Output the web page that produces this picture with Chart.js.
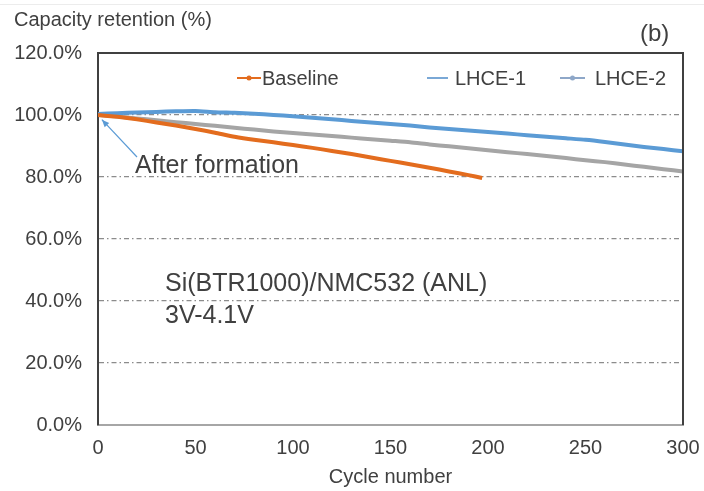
<!DOCTYPE html>
<html lang="en">
<head>
    <meta charset="UTF-8">
    <title>Capacity retention</title>
    <style>
        body {
            margin: 0;
            background: #ffffff;
        }
        #wrap {
            width: 704px;
            height: 491px;
        }
    </style>
</head>
<body>
    <div id="wrap">
        <canvas id="capChart" width="704" height="491"></canvas>
    </div>
    <script src="https://cdn.jsdelivr.net/npm/chart.js@4.4.1/dist/chart.umd.min.js"></script>
    <script>
        // values
        const cycles = [0, 10, 20, 30, 40, 50, 60, 70, 80, 90, 100, 110, 120, 130, 140, 150,
                        160, 170, 180, 190, 200, 210, 220, 230, 240, 250, 260, 270, 280, 290, 300];
        const lhce1 = [100.3, 100.6, 100.8, 101.0, 101.2, 101.3, 100.9, 100.7, 100.4, 100.0, 99.6,
                       99.1, 98.6, 98.1, 97.6, 97.1, 96.6, 96.0, 95.5, 95.0, 94.5, 94.0, 93.5,
                       93.0, 92.5, 92.0, 91.3, 90.5, 89.7, 89.0, 88.3];
        const lhce2 = [100.0, 99.5, 98.9, 98.3, 97.7, 97.1, 96.5, 95.9, 95.3, 94.7, 94.2, 93.7,
                       93.2, 92.7, 92.2, 91.7, 91.2, 90.5, 89.9, 89.3, 88.6, 88.0, 87.4, 86.8,
                       86.1, 85.4, 84.8, 84.0, 83.3, 82.5, 81.8];
        const baseCycles = [0, 10, 20, 30, 40, 50, 60, 70, 80, 90, 100, 110, 120, 130, 140, 150,
                            160, 170, 180, 190, 197];
        const baseline = [100.0, 99.4, 98.6, 97.6, 96.6, 95.5, 94.3, 93.0, 92.0, 91.2, 90.3,
                          89.4, 88.4, 87.4, 86.3, 85.2, 84.1, 83.0, 81.8, 80.6, 79.7];
        const yTicks = [0, 20, 40, 60, 80, 100, 120];
        const xTicks = [0, 50, 100, 150, 200, 250, 300];

        const FONT = "'Liberation Sans', Arial, sans-serif";
        const TXT = '#404040';

        function pts(xs, ys) {
            return xs.map((x, i) => ({ x: x, y: ys[i] }));
        }

        const extras = {
            id: 'extras',
            afterDraw(chart) {
                const c = chart.ctx;
                const a = chart.chartArea;
                const xs = chart.scales.x;
                const ys = chart.scales.y;
                c.save();
                // faint line at the very top
                c.strokeStyle = '#ececec';
                c.lineWidth = 1;
                c.beginPath();
                c.moveTo(0, 4.5);
                c.lineTo(704, 4.5);
                c.stroke();

                // top and right frame
                c.strokeStyle = '#404040';
                c.lineWidth = 2;
                c.beginPath();
                c.moveTo(a.left, a.top);
                c.lineTo(a.right, a.top);
                c.lineTo(a.right, a.bottom);
                c.stroke();

                c.fillStyle = TXT;
                c.textBaseline = 'middle';
                c.textAlign = 'left';
                c.font = '20px ' + FONT;
                c.fillText('Capacity retention (%)', 14, 20);
                c.font = '24px ' + FONT;
                c.fillText('(b)', 640, 34);

                c.font = '25px ' + FONT;
                c.fillText('After formation', 135, 166);
                c.font = '25px ' + FONT;
                c.fillText('Si(BTR1000)/NMC532 (ANL)', 165, 284);
                c.fillText('3V-4.1V', 165, 316);

                // arrow to the first point
                const tx = xs.getPixelForValue(2), ty = ys.getPixelForValue(98.5);
                const fx = 137, fy = 157;
                c.strokeStyle = '#5b9bd5';
                c.fillStyle = '#5b9bd5';
                c.lineWidth = 1.2;
                c.beginPath();
                c.moveTo(fx, fy);
                c.lineTo(tx, ty);
                c.stroke();
                const ang = Math.atan2(ty - fy, tx - fx);
                c.beginPath();
                c.moveTo(tx, ty);
                c.lineTo(tx - 8 * Math.cos(ang - 0.4), ty - 8 * Math.sin(ang - 0.4));
                c.lineTo(tx - 8 * Math.cos(ang + 0.4), ty - 8 * Math.sin(ang + 0.4));
                c.closePath();
                c.fill();

                // legend inside the plot
                const items = [
                    { ds: 0, x: 237, w: 24, tx: 262, dot: true },
                    { ds: 1, x: 427, w: 21, tx: 455, dot: false },
                    { ds: 2, x: 560, w: 25, tx: 595, dot: true }
                ];
                c.font = '20px ' + FONT;
                items.forEach(it => {
                    const ds = chart.data.datasets[it.ds];
                    const ly = 78;
                    c.strokeStyle = ds.legendColor;
                    c.lineWidth = 2;
                    c.beginPath();
                    c.moveTo(it.x, ly);
                    c.lineTo(it.x + it.w, ly);
                    c.stroke();
                    if (it.dot) {
                        c.fillStyle = ds.legendColor;
                        c.beginPath();
                        c.arc(it.x + it.w / 2, ly, 2.5, 0, Math.PI * 2);
                        c.fill();
                    }
                    c.fillStyle = TXT;
                    c.fillText(ds.label, it.tx, ly + 1);
                });
                c.restore();
            }
        };

        new Chart(document.getElementById('capChart'), {
            type: 'line',
            data: {
                datasets: [
                    {
                        label: 'Baseline',
                        data: pts(baseCycles, baseline),
                        borderColor: '#e36c1e',
                        legendColor: '#e36c1e',
                        borderWidth: 4,
                        pointRadius: 0,
                        tension: 0.2
                    },
                    {
                        label: 'LHCE-1',
                        data: pts(cycles, lhce1),
                        borderColor: '#5b9bd5',
                        legendColor: '#7aa8d6',
                        borderWidth: 4,
                        pointRadius: 0,
                        tension: 0.2
                    },
                    {
                        label: 'LHCE-2',
                        data: pts(cycles, lhce2),
                        borderColor: '#a5a5a5',
                        legendColor: '#8ea7c8',
                        borderWidth: 4,
                        pointRadius: 0,
                        tension: 0.2
                    }
                ]
            },
            options: {
                responsive: false,
                animation: false,
                layout: { padding: { left: 0, right: 21, top: 53, bottom: 0 } },
                plugins: {
                    legend: { display: false },
                    tooltip: { enabled: false }
                },
                scales: {
                    x: {
                        type: 'linear',
                        min: 0,
                        max: 300,
                        afterFit: s => { s.height = 66; s.paddingRight = 0; s.paddingLeft = 0; },
                        afterBuildTicks: s => { s.ticks = xTicks.map(v => ({ value: v })); },
                        grid: { display: false, drawTicks: false },
                        border: { display: true, color: '#a6a6a6', width: 2 },
                        ticks: {
                            padding: 11,
                            color: TXT,
                            font: { family: FONT, size: 20 },
                            maxRotation: 0
                        },
                        title: {
                            display: true,
                            text: 'Cycle number',
                            color: TXT,
                            font: { family: FONT, size: 20 },
                            padding: { top: 0, bottom: 2 }
                        }
                    },
                    y: {
                        min: 0,
                        max: 120,
                        afterFit: s => { s.width = 98; s.paddingTop = 0; s.paddingBottom = 0; },
                        afterBuildTicks: s => { s.ticks = yTicks.map(v => ({ value: v })); },
                        grid: {
                            drawTicks: false,
                            color: ctx => (ctx.tick && (ctx.tick.value === 0 || ctx.tick.value === 120)) ? 'rgba(0,0,0,0)' : '#8c8c8c',
                            lineWidth: 1.2
                        },
                        border: { display: true, color: '#404040', width: 2, dash: [5, 3, 1.5, 3] },
                        ticks: {
                            padding: 16,
                            color: TXT,
                            font: { family: FONT, size: 20 },
                            callback: v => v.toFixed(1) + '%'
                        }
                    }
                }
            },
            plugins: [extras]
        });
    </script>
</body>
</html>
